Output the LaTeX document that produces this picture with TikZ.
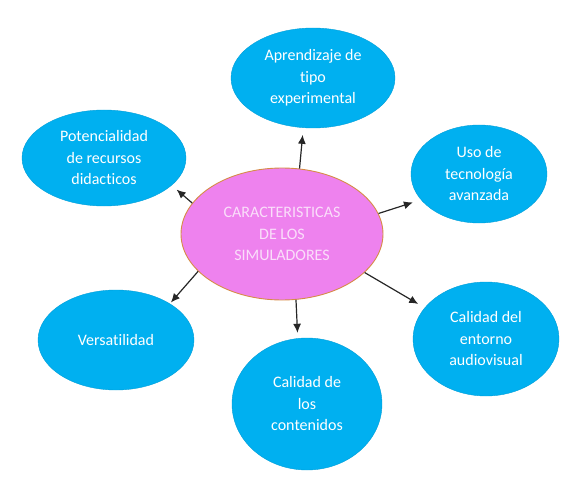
\documentclass[tikz,border=0pt]{standalone}
\usepackage{fontspec}
\setmainfont{Carlito}[Ligatures=NoCommon]
\usetikzlibrary{arrows.meta}
\usetikzlibrary{shapes}
\definecolor{featblue}{RGB}{0,176,240}
\definecolor{simviolet}{RGB}{238,130,238}
\definecolor{simborder}{RGB}{214,140,70}
\definecolor{simtext}{RGB}{250,222,250}
\tikzset{
        ellnode/.style={ellipse, align=center, inner sep=0pt, font=\fontsize{16}{21.5}\selectfont},
        % Central node
        node_main/.style={ellnode, fill=simviolet, draw=simborder, line width=0.9pt, text=simtext},
        % Feature nodes
        node_feature/.style={ellnode, fill=featblue, draw=featblue!90!black, line width=0.4pt, text=white},
        % Arrows
        link/.style={-{Latex[length=9pt,width=8pt]}, line width=1.2pt, draw=black!85}
}
\begin{document}
\begin{tikzpicture}[x=1pt, y=-1pt]
            \useasboundingbox (0,0) rectangle (571,495);
            \node[node_main, minimum width=202pt, minimum height=132pt] (sim) at (282,234) {CARACTERISTICAS\\DE LOS\\SIMULADORES};
            \node[node_feature, minimum width=164pt, minimum height=100pt] (apr) at (313,78) {Aprendizaje de\\tipo\\experimental};
            \node[node_feature, minimum width=164pt, minimum height=96pt] (pot) at (104,158) {Potencialidad\\de recursos\\didacticos};
            \node[node_feature, minimum width=136pt, minimum height=98pt] (uso) at (479,174) {Uso de\\tecnología\\avanzada};
            \node[node_feature, minimum width=146pt, minimum height=114pt] (aud) at (486,339) {Calidad del\\entorno\\audiovisual};
            \node[node_feature, minimum width=150pt, minimum height=132pt] (con) at (307,404) {Calidad de\\los\\contenidos};
            \node[node_feature, minimum width=156pt, minimum height=100pt] (ver) at (116,340) {Versatilidad};

            \draw[link, shorten >=7pt] (sim.75) -- (apr.259);
            \draw[link, shorten >=6.5pt] (sim.161) -- (pot.-22);
            \draw[link, shorten >=8.5pt] (sim.12) -- (uso.204);
            \draw[link, shorten >=7.5pt] (sim.-25) -- (aud.153);
            \draw[link, shorten >=5.5pt] (sim.-78) -- (con.98);
            \draw[link, shorten >=1.5pt] (sim.204) -- (ver.34);
        \end{tikzpicture}
\end{document}
